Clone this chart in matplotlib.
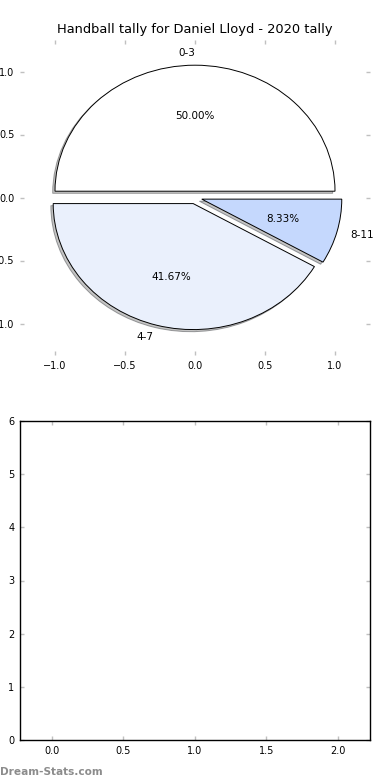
import matplotlib
matplotlib.use("Agg")
import matplotlib.pyplot as plt

# data
categories = ["0-3", "4-7", "8-11"]
counts = [6, 5, 1]
colors = ["#ffffff", "#eaf0fc", "#c5d8fd"]
explode = [0.05, 0.05, 0.05]
title = "Handball tally for Daniel Lloyd - 2020 tally"
pie_ticks = [-1.0, -0.5, 0.0, 0.5, 1.0]
pie_ticklabels = ["\u22121.0", "\u22120.5", "0.0", "0.5", "1.0"]
bottom_xticks = [0.0, 0.5, 1.0, 1.5, 2.0]
bottom_yticks = [0, 1, 2, 3, 4, 5, 6]

fig = plt.figure(figsize=(3.9, 7.8), dpi=100)
ax1 = fig.add_axes([20/390, 1-355/780, 350/390, 315/780])
ax2 = fig.add_axes([20/390, 1-740/780, 350/390, 319/780])

wedges, texts, autotexts = ax1.pie(
    counts, labels=categories, colors=colors, explode=explode,
    autopct="%.2f%%", shadow=dict(ox=-0.012, oy=-0.012, facecolor="#8a8a8a"),
    startangle=0, frame=True,
    wedgeprops=dict(edgecolor="black", linewidth=0.7),
    textprops=dict(fontsize=7.5, color="black"))
ax1.set_aspect("auto")
ax1.set_xlim(-1.25, 1.25)
ax1.set_ylim(-1.25, 1.25)
for s in ax1.spines.values():
    s.set_visible(False)
ax1.set_xticks(pie_ticks)
ax1.set_yticks(pie_ticks)
ax1.set_xticklabels(pie_ticklabels)
ax1.set_yticklabels(pie_ticklabels)
ax1.set_title(title, fontsize=9.4, pad=5)

ax2.set_xlim(-0.223, 2.225)
ax2.set_ylim(0, 6)
ax2.set_xticks(bottom_xticks)
ax2.set_yticks(bottom_yticks)
for s in ax2.spines.values():
    s.set_color("black")
    s.set_linewidth(1.0)

for ax in (ax1, ax2):
    ax.tick_params(which="both", direction="in", length=3, width=1,
                   color="#c0c0c0", labelsize=7, labelcolor="black",
                   top=True, right=True, pad=4)

fig.text(0.0, 3/780, "Dream-Stats.com", fontsize=7.6, fontweight="bold",
         color="#8c8c8c", ha="left", va="bottom")

fig.savefig("out.png", dpi=100)
